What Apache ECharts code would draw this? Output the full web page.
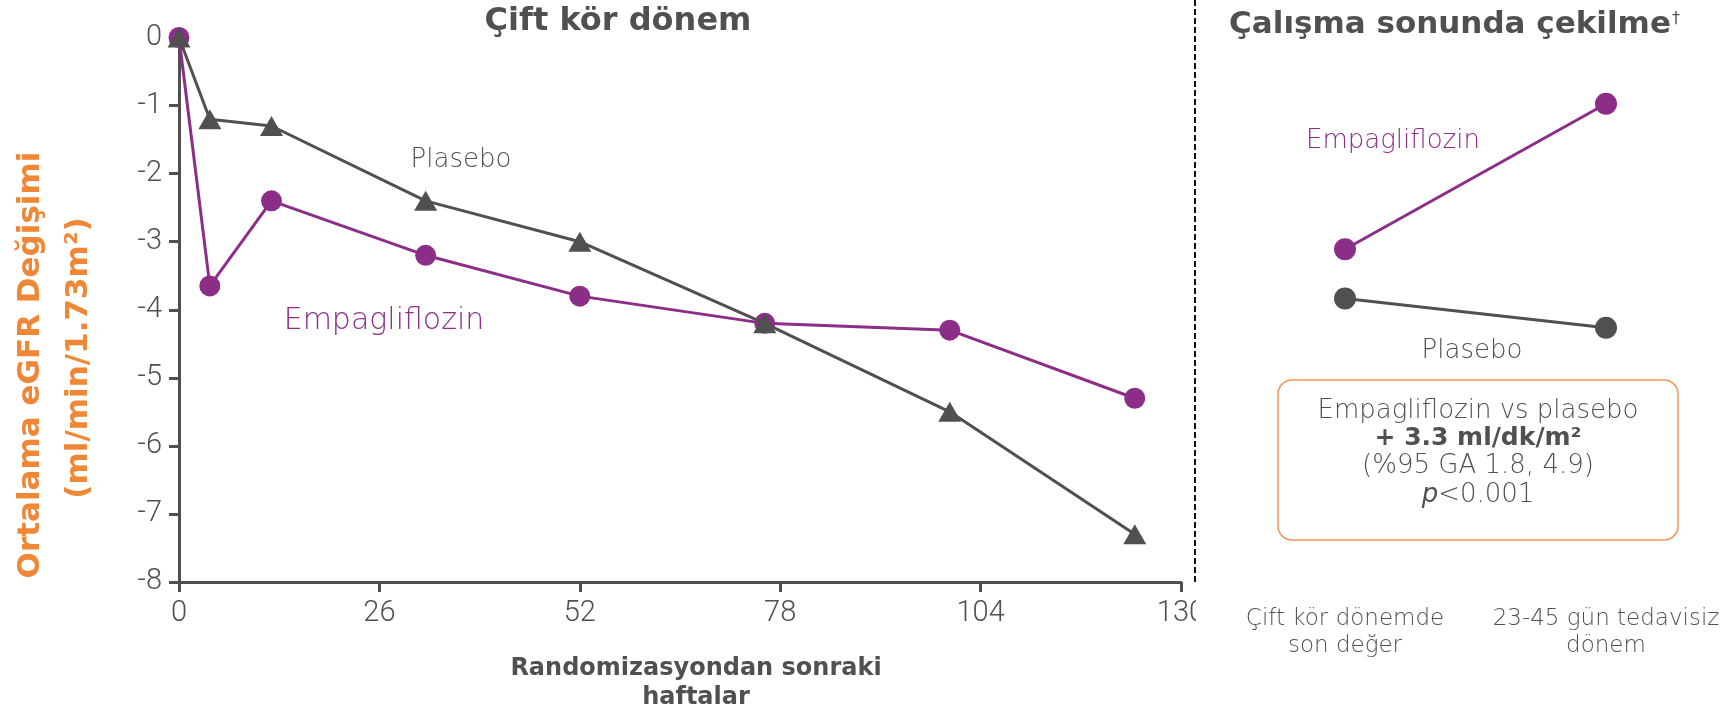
<!DOCTYPE html>
<html>
<head>
<meta charset="utf-8">
<script src="https://cdn.jsdelivr.net/npm/echarts@6/dist/echarts.min.js"></script>
<style>
  html, body { margin: 0; padding: 0; background: #ffffff; }
  #chart { width: 1731px; height: 717px; }
</style>
</head>
<body>
<div id="chart"></div>
<script>
// Double-blind period: weeks after randomisation
const weeks = [0, 4, 12, 32, 52, 76, 100, 124];
const empaValues = [0, -3.65, -2.4, -3.2, -3.8, -4.2, -4.3, -5.3];
const placeboValues = [0, -1.2, -1.3, -2.4, -3.0, -4.2, -5.5, -7.3];

// Off-treatment period at end of study
const offCategories = ['Çift kör dönemde\nson değer', '23-45 gün tedavisiz\ndönem'];
const offEmpaValues = [-3.1, -0.97];
const offPlaceboValues = [-3.82, -4.25];

// Axis ranges
const yMin = -8, yMax = 0, yStep = 1;
const xMin = 0, xMax = 130, xStep = 26;

const PURPLE = '#8c2d88';
const GREY = '#505050';
const ORANGE = '#ef8736';
const SANS = '"DejaVu Sans", sans-serif';
const DIGITS = 'Roboto, "DejaVu Sans", sans-serif';

const pairs = (xs, ys) => xs.map((x, i) => [x, ys[i]]);

const label = (x, y, text, color, size, weight) => ({
  type: 'text', z: 10, x: x, y: y,
  style: { text: text, fill: color, font: (weight || '200') + ' ' + size + 'px ' + SANS,
    align: 'center', verticalAlign: 'middle' }
});

const chart = echarts.init(document.getElementById('chart'));

chart.setOption({
  animation: false,
  backgroundColor: '#ffffff',
  textStyle: { fontFamily: SANS },
  grid: [
    { left: 179, top: 37.5, width: 1002, height: 546.5 },
    { left: 1345, top: 37.5, width: 261, height: 546.5 }
  ],
  xAxis: [
    {
      gridIndex: 0, type: 'value', min: xMin, max: xMax, interval: xStep,
      axisLine: { onZero: false, lineStyle: { color: GREY, width: 3 } },
      axisTick: { show: true, length: 10, lineStyle: { color: GREY, width: 3 } },
      axisLabel: { color: GREY, fontSize: 29, margin: 17, fontFamily: DIGITS, fontWeight: 300 },
      splitLine: { show: false },
      name: 'Randomizasyondan sonraki\nhaftalar',
      nameLocation: 'middle', nameGap: 72,
      nameTextStyle: { color: GREY, fontSize: 24, fontWeight: 'bold', lineHeight: 29,
        padding: [0, 0, 0, 32], fontFamily: SANS }
    },
    {
      gridIndex: 1, type: 'category', data: offCategories, boundaryGap: false,
      axisLine: { show: false }, axisTick: { show: false },
      axisLabel: { interval: 0, hideOverlap: false, showMinLabel: true, showMaxLabel: true,
        color: GREY, fontSize: 23, lineHeight: 27, margin: 22, fontFamily: SANS, fontWeight: 200 },
      splitLine: { show: false }
    }
  ],
  yAxis: [
    {
      gridIndex: 0, type: 'value', min: yMin, max: yMax, interval: yStep,
      axisLine: { show: true, onZero: false, lineStyle: { color: GREY, width: 3 } },
      axisTick: { show: true, length: 10, lineStyle: { color: GREY, width: 3 } },
      axisLabel: { color: GREY, fontSize: 29, margin: 17, fontFamily: DIGITS, fontWeight: 300 },
      splitLine: { show: false }
    },
    {
      gridIndex: 1, type: 'value', min: yMin, max: yMax, interval: yStep,
      show: false
    }
  ],
  series: [
    {
      name: 'Empagliflozin', type: 'line', xAxisIndex: 0, yAxisIndex: 0,
      data: pairs(weeks, empaValues),
      symbol: 'circle', symbolSize: 21,
      lineStyle: { color: PURPLE, width: 3 },
      itemStyle: { color: PURPLE }, z: 2
    },
    {
      name: 'Plasebo', type: 'line', xAxisIndex: 0, yAxisIndex: 0,
      data: pairs(weeks, placeboValues),
      symbol: 'triangle', symbolSize: [23, 20],
      lineStyle: { color: GREY, width: 3 },
      itemStyle: { color: GREY }, z: 3
    },
    {
      name: 'Empagliflozin (çekilme)', type: 'line', xAxisIndex: 1, yAxisIndex: 1,
      data: offEmpaValues,
      symbol: 'circle', symbolSize: 22,
      lineStyle: { color: PURPLE, width: 3 },
      itemStyle: { color: PURPLE }
    },
    {
      name: 'Plasebo (çekilme)', type: 'line', xAxisIndex: 1, yAxisIndex: 1,
      data: offPlaceboValues,
      symbol: 'circle', symbolSize: 22,
      lineStyle: { color: GREY, width: 3 },
      itemStyle: { color: GREY }
    }
  ],
  graphic: [
    // y-axis title, two rotated lines
    { type: 'text', z: 10, x: 31, y: 365, rotation: Math.PI / 2,
      style: { text: 'Ortalama eGFR Değişimi', fill: ORANGE, font: 'bold 31px ' + SANS,
        align: 'center', verticalAlign: 'middle' } },
    { type: 'text', z: 10, x: 79, y: 358, rotation: Math.PI / 2,
      style: { text: '(ml/min/1.73m²)', fill: ORANGE, font: 'bold 31px ' + SANS,
        align: 'center', verticalAlign: 'middle' } },
    // panel title, double-blind period
    label(618, 22, 'Çift kör dönem', GREY, 32, 'bold'),
    // series labels, double-blind period
    label(461, 160, 'Plasebo', GREY, 26),
    label(384, 321, 'Empagliflozin', PURPLE, 30),
    // hide the tail of the last tick label behind the panel divider
    { type: 'rect', z: 5, shape: { x: 1196, y: 595, width: 40, height: 45 }, style: { fill: '#ffffff' } },
    // panel divider
    { type: 'line', z: 10, shape: { x1: 1195, y1: 0, x2: 1195, y2: 584 },
      style: { stroke: '#111111', lineWidth: 2, lineDash: [6, 3] } },
    // off-treatment panel
    label(1450, 25, 'Çalışma sonunda çekilme', GREY, 31, 'bold'),
    { type: 'text', z: 10, x: 1672, y: 19,
      style: { text: '†', fill: GREY, font: '16px ' + SANS, align: 'left', verticalAlign: 'middle' } },
    label(1393, 141, 'Empagliflozin', PURPLE, 26),
    label(1472, 351, 'Plasebo', GREY, 26),
    // treatment difference box
    { type: 'rect', z: 10, shape: { x: 1278, y: 380, width: 400, height: 160, r: 14 },
      style: { fill: 'none', stroke: '#f0955a', lineWidth: 1.5 } },
    label(1478, 411, 'Empagliflozin vs plasebo', GREY, 26),
    label(1478, 438, '+ 3.3 ml/dk/m²', GREY, 25, 'bold'),
    label(1478, 466, '(%95 GA 1.8, 4.9)', GREY, 26),
    { type: 'text', z: 11, x: 1478, y: 495,
      style: {
        text: '{i|p}<0.001', fill: GREY, font: '200 26px ' + SANS, align: 'center', verticalAlign: 'middle',
        rich: { i: { fontStyle: 'italic', fontSize: 26, fontFamily: SANS, fontWeight: 200, fill: GREY } }
      } }
  ]
});
</script>
</body>
</html>
